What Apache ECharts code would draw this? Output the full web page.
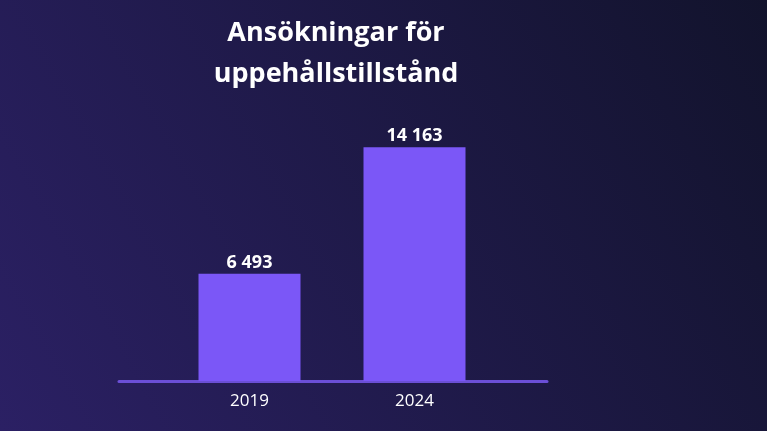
<!DOCTYPE html>
<html>
<head>
<meta charset="utf-8">
<script src="https://cdn.jsdelivr.net/npm/echarts@6/dist/echarts.min.js"></script>
<style>html,body{margin:0;padding:0;}</style>
</head>
<body>
<div id="main" style="width:767px;height:431px;"></div>
<script>
var years = ['2019', '2024'];
var applications = [6493, 14163];

var chart = echarts.init(document.getElementById('main'));
function fmt(v) { return String(v).replace(/\B(?=(\d{3})+(?!\d))/g, ' '); }

chart.setOption({
    backgroundColor: {
        type: 'linear', x: 0, y: 1, x2: 1, y2: 0,
        colorStops: [{ offset: 0, color: '#2b2064' }, { offset: 1, color: '#12132c' }]
    },
    title: {
        text: 'Ansökningar för\nuppehållstillstånd',
        left: 331, top: 8, textAlign: 'center',
        textStyle: { color: '#fff', fontSize: 27, fontWeight: 'bold', lineHeight: 41, fontFamily: 'Open Sans' }
    },
    grid: [
        { left: 167, right: 270, top: 51, bottom: 50 },
        { left: 119, right: 220, top: 51, bottom: 50 }
    ],
    xAxis: [
        {
            type: 'category', data: years, gridIndex: 0,
            axisLine: { show: false }, axisTick: { show: false },
            axisLabel: { color: '#fff', fontSize: 17, fontWeight: 500, margin: 12, fontFamily: 'Open Sans' }
        },
        {
            type: 'category', data: [''], gridIndex: 1,
            axisLine: { lineStyle: { color: '#6b4fd6', width: 3 } },
            axisTick: { show: false }, axisLabel: { show: false }
        }
    ],
    yAxis: [
        { type: 'value', min: 0, max: 20000, show: false, gridIndex: 0 },
        { type: 'value', min: 0, max: 20000, show: false, gridIndex: 1 }
    ],
    series: [
        {
            type: 'bar', data: applications, barWidth: 102,
            itemStyle: { color: '#7b57f7' },
            label: {
                show: true, position: 'top', distance: 2, color: '#fff',
                fontSize: 18, fontWeight: 'bold', fontFamily: 'Open Sans',
                formatter: function (p) { return fmt(p.value); }
            }
        },
        { type: 'bar', data: [], xAxisIndex: 1, yAxisIndex: 1 }
    ]
});
</script>
</body>
</html>
